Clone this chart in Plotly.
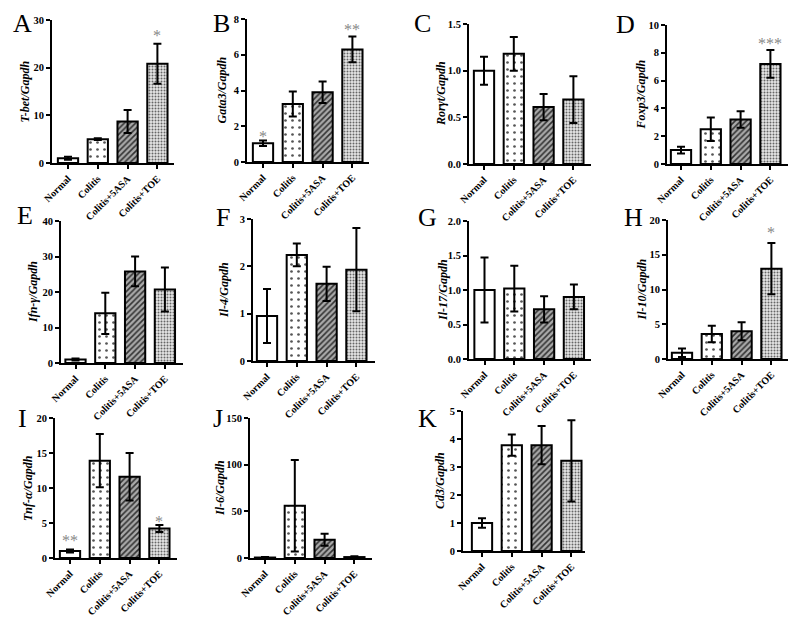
import plotly.graph_objects as go

W, H = 796, 617
OX, OY = 8, 8  # page body margin offset
groups = ["Normal", "Colitis", "Colitis+5ASA", "Colitis+TOE"]

# values and SEM per panel
t_bet = [1.0, 5.0, 8.7, 20.8]
t_bet_err = [0.3, 0.2, 2.4, 4.2]
gata3 = [1.05, 3.25, 3.9, 6.3]
gata3_err = [0.15, 0.7, 0.6, 0.72]
rorgt = [1.0, 1.18, 0.61, 0.69]
rorgt_err = [0.15, 0.18, 0.14, 0.25]
foxp3 = [1.0, 2.5, 3.2, 7.2]
foxp3_err = [0.25, 0.85, 0.6, 1.0]
ifng = [1.0, 14.0, 25.8, 20.7]
ifng_err = [0.3, 5.8, 4.2, 6.2]
il4 = [0.95, 2.24, 1.63, 1.93]
il4_err = [0.57, 0.24, 0.36, 0.88]
il17 = [1.0, 1.02, 0.72, 0.9]
il17_err = [0.47, 0.33, 0.19, 0.18]
il10 = [0.9, 3.6, 4.0, 13.0]
il10_err = [0.6, 1.2, 1.3, 3.7]
tnfa = [1.0, 13.9, 11.6, 4.2]
tnfa_err = [0.2, 3.8, 3.4, 0.5]
il6 = [0.5, 56.0, 19.5, 1.0]
il6_err = [0.5, 49.0, 6.5, 0.8]
cd3 = [1.0, 3.78, 3.78, 3.22]
cd3_err = [0.17, 0.38, 0.68, 1.45]

titles = ["T-bet/Gapdh", "Gata3/Gapdh", "Rorγt/Gapdh", "Foxp3/Gapdh",
          "Ifn-γ/Gapdh", "Il-4/Gapdh", "Il-17/Gapdh", "Il-10/Gapdh",
          "Tnf-α/Gapdh", "Il-6/Gapdh", "Cd3/Gapdh"]
letters = list("ABCDEFGHIJK")
values = [t_bet, gata3, rorgt, foxp3, ifng, il4, il17, il10, tnfa, il6, cd3]
errors = [t_bet_err, gata3_err, rorgt_err, foxp3_err, ifng_err, il4_err,
          il17_err, il10_err, tnfa_err, il6_err, cd3_err]
ymax = [30, 8, 1.5, 10, 40, 3, 2.0, 20, 20, 150, 5]
dtick = [10, 2, 0.5, 2, 10, 1, 0.5, 5, 5, 50, 1]
tickfmt = ["", "", ".1f", "", "", "", ".1f", "", "", "", ""]

# significance stars: (panel, group index, text, y value)
stars = [(0, 3, "*", 27.3), (1, 0, "*", 1.62), (1, 3, "**", 7.6),
         (3, 3, "***", 8.85), (7, 3, "*", 18.6), (8, 0, "**", 3.0),
         (8, 3, "*", 5.7)]

# layout geometry (pixels): axis x, first-center offset, top y, base y, title offset, letter x,y
geo = [
    (52, 16, 20, 163, 27, 22, 24),
    (247, 16, 19, 162, 25, 221, 24),
    (469, 15, 24, 164, 28, 423, 24),
    (667, 14, 25, 164, 27, 625, 25),
    (61, 14.5, 221, 363, 28, 25, 215),
    (253, 14, 219, 361, 29, 223, 217),
    (469, 15.5, 221, 359, 26, 427, 217),
    (668, 14, 220, 359, 26, 633, 217),
    (55, 15, 418, 558, 27, 23, 418),
    (250, 15, 418, 558, 30, 218, 418),
    (463, 19, 411, 551, 23, 427, 418),
]


def px(x):
    return (x - OX) / W


def py(y):
    return 1 - (y - OY) / H


FONT = "Liberation Serif"
pattern = dict(
    shape=["", ".", "/", "."],
    size=[6, 7, 4, 3],
    solidity=[0.1, 0.12, 0.4, 0.35],
    fgcolor=["#ffffff", "#555555", "#333333", "#666666"],
    bgcolor=["#ffffff", "#ffffff", "#aaaaaa", "#e6e6e6"],
    fillmode="replace",
)

fig = go.Figure()
annotations = []
layout = {}
for i in range(11):
    ax, off, top, base, toff, lx, ly = geo[i]
    n = "" if i == 0 else str(i + 1)
    unit = 29.8
    r0 = -off / unit
    r1 = r0 + 122 / unit
    fig.add_trace(go.Bar(
        x=list(range(4)), y=values[i],
        error_y=dict(type="data", array=errors[i], visible=True,
                     color="black", thickness=2, width=4),
        marker=dict(color="white", line=dict(color="black", width=2),
                    pattern=pattern),
        width=0.68, xaxis="x" + n, yaxis="y" + n, showlegend=False,
    ))
    layout["xaxis" + n] = dict(
        domain=[px(ax), px(ax + 122)], range=[r0, r1], automargin=False,
        anchor="y" + n, tickmode="array", tickvals=list(range(4)),
        ticktext=groups, tickangle=-45, showline=True, linecolor="black",
        linewidth=2, ticks="outside", ticklen=4, tickwidth=2,
        tickcolor="black", showgrid=False, zeroline=False,
        tickfont=dict(family=FONT, size=10, color="black", weight="bold"),
    )
    layout["yaxis" + n] = dict(
        domain=[py(base), py(top)], range=[0, ymax[i]],
        anchor="x" + n, dtick=dtick[i], tickformat=tickfmt[i],
        automargin=False,
        showline=True, linecolor="black", linewidth=2, ticks="outside",
        ticklen=4, tickwidth=2, tickcolor="black", showgrid=False,
        zeroline=False,
        tickfont=dict(family=FONT, size=10.5, color="black", weight="bold"),
    )
    annotations.append(dict(
        text=titles[i], xref="paper", yref="paper",
        x=px(ax - toff), y=py((top + base) / 2), textangle=-90,
        showarrow=False, xanchor="center", yanchor="middle",
        font=dict(family=FONT, size=12, color="black", style="italic",
                  weight="bold"),
    ))
    annotations.append(dict(
        text=letters[i], xref="paper", yref="paper", x=px(lx), y=py(ly),
        showarrow=False, xanchor="center", yanchor="middle",
        font=dict(family=FONT, size=26, color="black"),
    ))

for p, g, txt, yv in stars:
    n = "" if p == 0 else str(p + 1)
    annotations.append(dict(
        text=txt, xref="x" + n, yref="y" + n, x=g, y=yv, showarrow=False,
        xanchor="center", yanchor="middle", yshift=-3,
        font=dict(family=FONT, size=16, color="#888888"),
    ))

fig.update_layout(
    width=W, height=H, margin=dict(l=0, r=0, t=0, b=0),
    paper_bgcolor="white", plot_bgcolor="white",
    annotations=annotations, **layout,
)
fig.write_html("out.html")
